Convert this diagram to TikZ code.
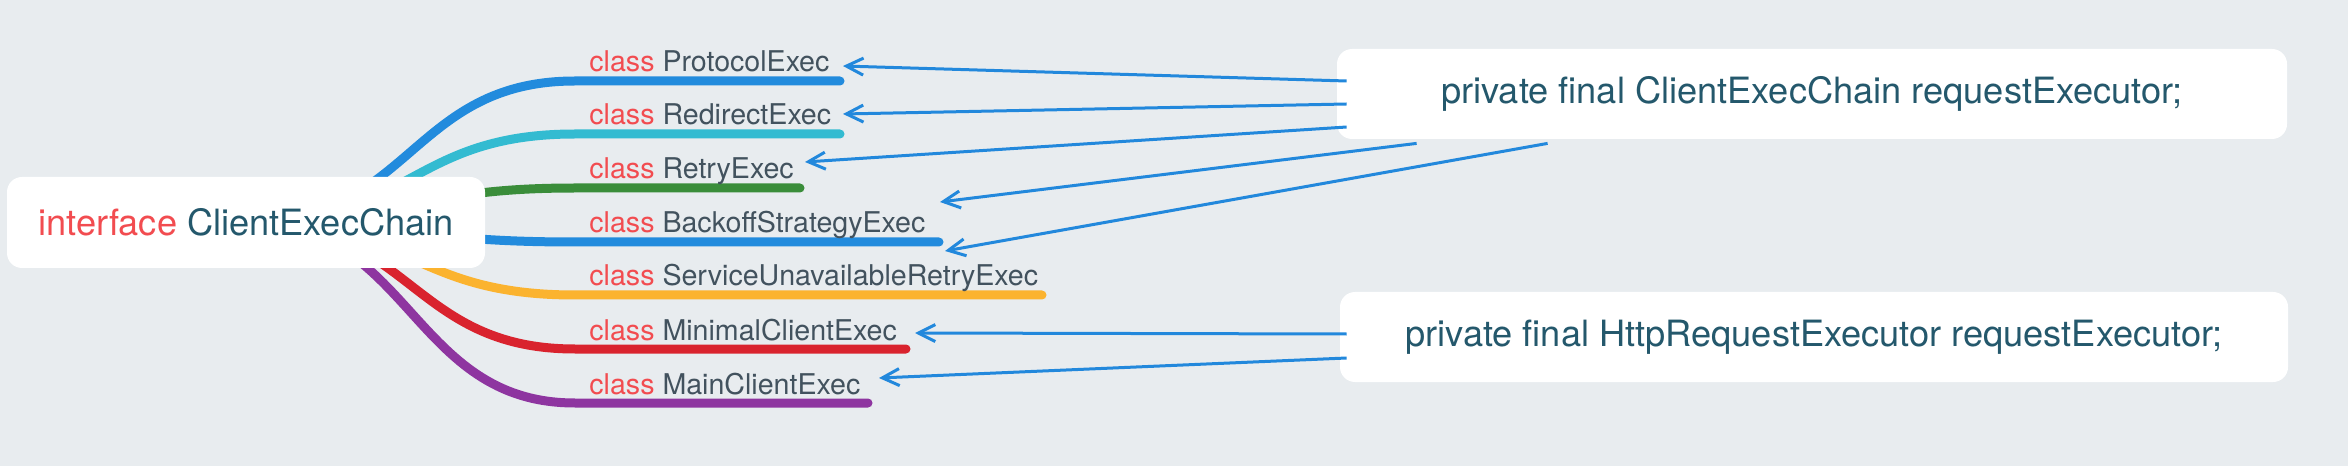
\documentclass[tikz,border=0pt]{standalone}
\usepackage{fontspec}
\setmainfont{TeX Gyre Heros}
\usetikzlibrary{arrows.meta}
\definecolor{bgcol}{RGB}{232,236,239}
\definecolor{kwcol}{RGB}{242,76,80}
\definecolor{titlecol}{RGB}{36,88,108}
\definecolor{subcol}{RGB}{66,82,94}
\definecolor{relcol}{RGB}{34,136,220}
\definecolor{brblue}{RGB}{34,139,221}
\definecolor{brcyan}{RGB}{51,187,209}
\definecolor{brgreen}{RGB}{58,141,58}
\definecolor{brorange}{RGB}{251,179,47}
\definecolor{brred}{RGB}{217,35,46}
\definecolor{brpurple}{RGB}{142,53,160}
\tikzset{
  topic/.style={fill=white, rounded corners=7.5pt, inner sep=0pt,
    text=titlecol, font=\fontsize{18.1}{22}\selectfont},
  subtopic/.style={anchor=base west, inner sep=0pt,
    text=subcol, font=\fontsize{14.3}{17}\selectfont},
  branch/.style={line width=4.5pt, line cap=round},
  rel/.style={relcol, line width=1.5pt,
    -{Straight Barb[length=8.5pt, width=8.5pt]}},
}

\begin{document}
\begin{tikzpicture}[x=0.5pt, y=0.5pt]

  % Canvas.
  \fill[bgcol] (0,0) rectangle (2348,466);
  \useasboundingbox (0,0) rectangle (2348,466);

  % Branches from the central topic, then the class labels.
  \coordinate (hub) at (247,244);
  \foreach \y/\xe/\col/\name [count=\i] in {
      385/840/brblue/ProtocolExec,
      332/840/brcyan/RedirectExec,
      278/800/brgreen/RetryExec,
      224/939/brblue/BackoffStrategyExec,
      171/1042/brorange/ServiceUnavailableRetryExec,
      117/906/brred/MinimalClientExec,
      63/868/brpurple/MainClientExec} {
    \draw[branch, \col] (hub) .. controls +(164,0) and +(-164,0)
      .. (575,\y) coordinate (b\i) -- (\xe,\y);
    \node[subtopic] (c\i) at (589,\y+9) {\textcolor{kwcol}{class} \name};
  }

  % Central topic.
  \node[topic, minimum width=239pt, minimum height=45.5pt] (root) at (246,243.5)
    {\textcolor{kwcol}{interface} ClientExecChain};

  % Field topics.
  \node[topic, minimum width=475pt, minimum height=45pt] (cbox) at (1812,372)
    {private final ClientExecChain requestExecutor;};
  \node[topic, minimum width=474pt, minimum height=45pt] (hbox) at (1814,129)
    {private final HttpRequestExecutor requestExecutor;};

  % Relationship end points.
  \coordinate (t1) at (843,400);
  \coordinate (t2) at (843,352);
  \coordinate (t3) at (805,304);
  \coordinate (t4) at (940,264);
  \coordinate (t5) at (945,215);
  \coordinate (t6) at (915,133);
  \coordinate (t7) at (879,88);

  % Relationships.
  \draw[rel] ([shift={(10,13)}]cbox.west) -- (t1);
  \draw[rel] ([shift={(10,-10)}]cbox.west) -- (t2);
  \draw[rel] ([shift={(10,-33)}]cbox.west) -- (t3);
  \draw[rel] ([shift={(80,-4)}]cbox.south west) -- (t4);
  \draw[rel] ([shift={(211,-4)}]cbox.south west) -- (t5);
  \draw[rel] ([shift={(7,3)}]hbox.west) -- (t6);
  \draw[rel] ([shift={(7,-21)}]hbox.west) -- (t7);

\end{tikzpicture}
\end{document}
